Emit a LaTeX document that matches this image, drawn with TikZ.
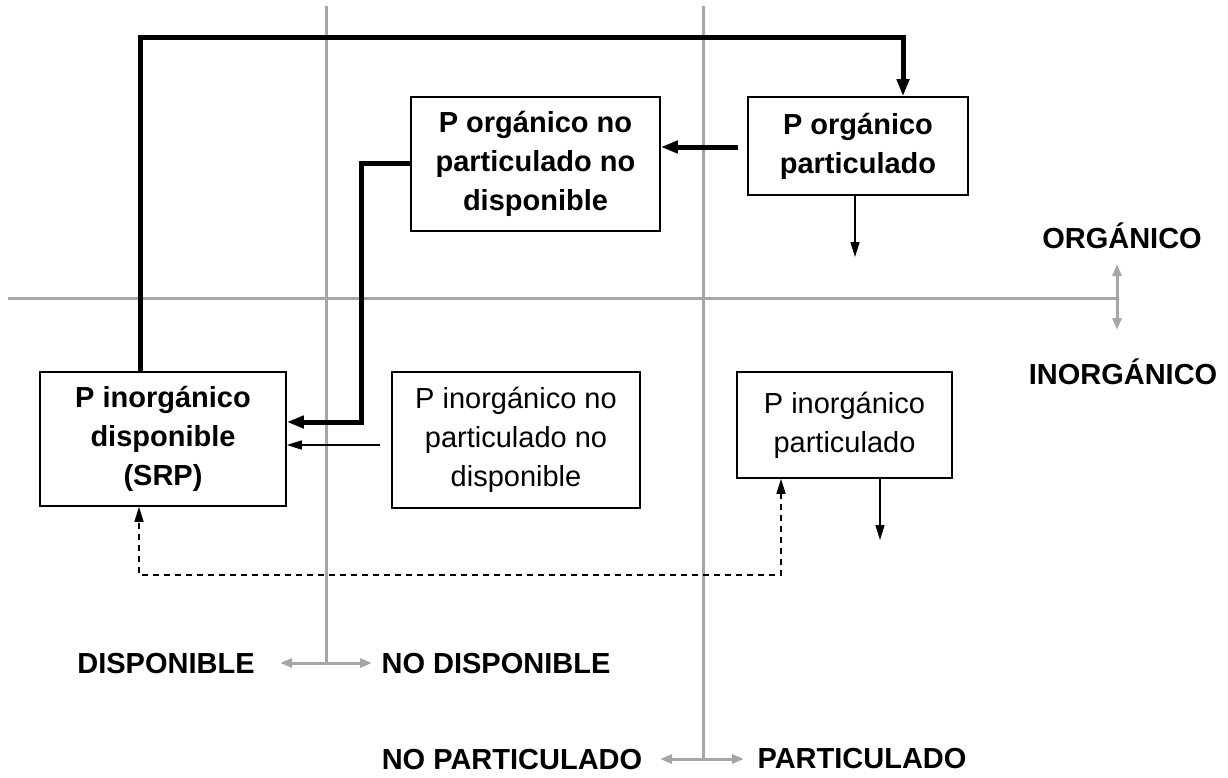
\documentclass[tikz,border=0pt]{standalone}
\usepackage{fontspec}
\setmainfont{Liberation Sans}
\usetikzlibrary{arrows.meta}
\definecolor{axisgray}{RGB}{166,166,166}
\tikzset{
  box/.style={draw=black, line width=1.6pt, inner sep=0pt, align=center,
    font=\fontsize{29}{39}\selectfont},
  boldbox/.style={box, font=\fontsize{29}{39}\selectfont\bfseries},
  axislabel/.style={font=\fontsize{29}{35}\selectfont\bfseries, inner sep=0pt},
  axis/.style={draw=axisgray, line width=3pt},
  axisarrow/.style={axis, {Triangle[length=12pt,width=9pt]}-{Triangle[length=12pt,width=9pt]}},
  flowthick/.style={line width=5pt, -{Triangle[length=17pt,width=12pt]}},
  flowthin/.style={line width=1.5pt, -{Triangle[length=15pt,width=9pt]}},
  flowdash/.style={line width=1.5pt, dash pattern=on 6pt off 5pt,
    {Triangle[length=15pt,width=9pt]}-{Triangle[length=15pt,width=9pt]}}
}
\begin{document}
\begin{tikzpicture}[x=1pt,y=-1pt]
\useasboundingbox (0,0) rectangle (1228,777);
% axes
\coordinate (h1) at (8,298);
\coordinate (h2) at (1117,298);
\coordinate (hv1) at (1117,264);
\coordinate (hv2) at (1117,330);
\coordinate (v1a) at (326,6);
\coordinate (v1b) at (326,663);
\coordinate (v1l) at (280,663);
\coordinate (v1r) at (372,663);
\coordinate (v2a) at (703,6);
\coordinate (v2b) at (703,759);
\coordinate (v2l) at (660,759);
\coordinate (v2r) at (744,759);
\draw[axis] (h1) -- (h2);
\draw[axisarrow] (hv1) -- (hv2);
\draw[axis] (v1a) -- (v1b);
\draw[axisarrow] (v1l) -- (v1r);
\draw[axis] (v2a) -- (v2b);
\draw[axisarrow] (v2l) -- (v2r);
% axis labels
\node[axislabel] (org) at (1122,236) {ORGÁNICO};
\node[axislabel] (inorg) at (1123,372) {INORGÁNICO};
\node[axislabel] (disp) at (166,664) {DISPONIBLE};
\node[axislabel] (nodisp) at (496,664) {NO DISPONIBLE};
\node[axislabel] (nopart) at (512,760) {NO PARTICULADO};
\node[axislabel] (part) at (862,759) {PARTICULADO};
% boxes
\node[boldbox, fill=white, minimum width=249pt, minimum height=134pt] (A) at (535.5,164) {P orgánico no\\particulado no\\disponible};
\node[boldbox, fill=white, minimum width=220pt, minimum height=98pt] (B) at (858,146) {P orgánico\\particulado};
\node[boldbox, fill=white, minimum width=246pt, minimum height=134pt] (C) at (163,439) {P inorgánico\\disponible\\(SRP)};
\node[box, fill=white, minimum width=248pt, minimum height=136pt] (D) at (516,440) {P inorgánico no\\particulado no\\disponible};
\node[box, fill=white, minimum width=215pt, minimum height=106pt] (E) at (844.5,425) {P inorgánico\\particulado};
% connectors
\coordinate (t1) at (140,37);
\coordinate (t2) at (903,37);
\draw[flowthick] (t1 |- C.north) -- (t1) -- (t2) -- (t2 |- B.north);
\coordinate (s2) at (738,147);
\draw[flowthick] (s2) -- (s2 -| A.east);
\coordinate (k1) at (361,163);
\coordinate (k2) at (361,422);
\draw[flowthick] (k1 -| A.west) -- (k1) -- (k2) -- (k2 -| C.east);
\coordinate (s4) at (380,445);
\draw[flowthin] (s4) -- (s4 -| C.east);
\coordinate (d1) at (781,575);
\coordinate (d2) at (139,575);
\draw[flowdash] (d1 |- E.south) -- (d1) -- (d2) -- (d2 |- C.south);
\coordinate (b1) at (855,257);
\draw[flowthin] (b1 |- B.south) -- (b1);
\coordinate (e1) at (880,540);
\draw[flowthin] (e1 |- E.south) -- (e1);
\end{tikzpicture}
\end{document}
